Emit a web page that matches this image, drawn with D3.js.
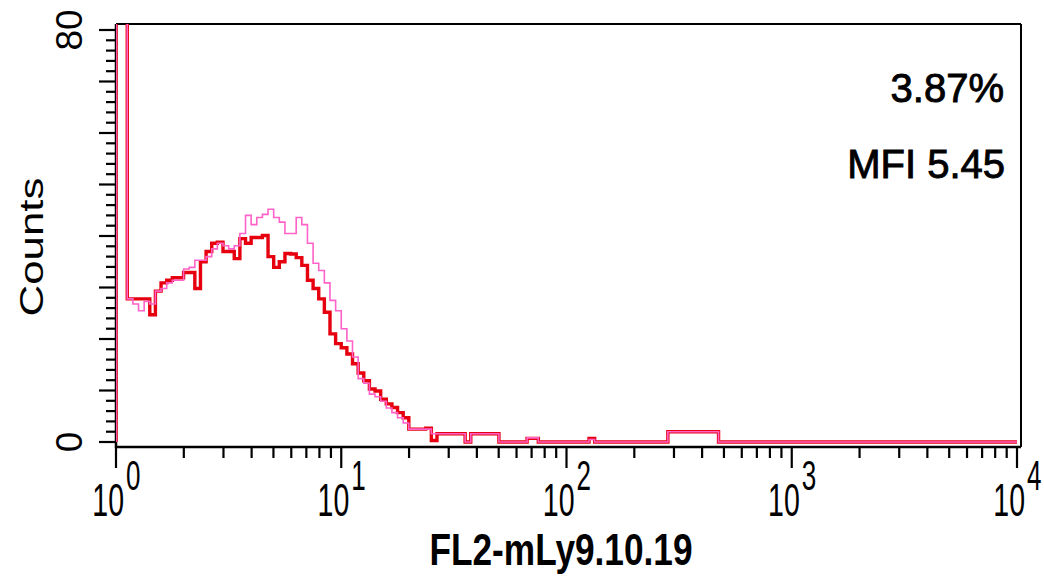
<!DOCTYPE html>
<html><head><meta charset="utf-8">
<script src="https://cdn.jsdelivr.net/npm/d3@7"></script>
<style>body{margin:0;background:#fff} svg{display:block}</style>
</head><body><svg id="c" width="1044" height="576"></svg>
<script>
// histogram bins: 40 bins per decade, from 10^0 to 10^4
const binsPerDecade = 40;
const redCounts = [
95,95,27.8,27.8,27.8,27.8,24.7,29.3,30.9,31.4,
31.9,31.9,32.9,32.9,29.8,35.0,37.0,38.6,38.8,37.0,
37.0,35.6,39.5,38.6,39.7,39.7,40.1,36.0,33.9,35.0,
36.6,36.5,35.8,34.3,31.4,29.8,27.8,25.2,21.0,19.1,
18.3,17.1,15.2,13.4,11.9,10.3,9.9,8.3,7.4,6.7,
5.7,4.7,2.5,2.5,2.5,2.7,0.3,1.6,1.6,1.6,
1.6,1.6,0,1.6,1.6,1.6,1.6,1.6,0,0,
0,0,0,0.7,0.7,0,0,0,0,0,
0,0,0,0,0.7,0,0,0,0,0,
0,0,0,0,0,0,0,0,2.0,2.0,
2.0,2.0,2.0,2.0,2.0,2.0,2.0,0,0,0,
0,0,0,0,0,0,0,0,0,0,
0,0,0,0,0,0,0,0,0,0,
0,0,0,0,0,0,0,0,0,0,
0,0,0,0,0,0,0,0,0,0,
0,0,0,0,0,0,0,0,0,0
];
const pinkCounts = [
95,95,27.8,26.8,25.5,27.3,26.8,29.3,29.8,30.9,
31.4,31.4,33.6,33.9,35.3,35.3,36.0,37.5,38.6,38.1,
37.5,38.1,40.5,44.0,42.2,43.6,44.2,45.2,43.6,42.7,
40.5,40.5,43.6,42.2,38.6,34.7,33.3,30.9,27.5,25.5,
22.0,19.6,16.5,12.3,11.4,9.3,8.8,7.9,6.6,5.7,
4.7,3.7,2.5,2.5,2.5,2.5,1.6,1.6,1.6,1.6,
1.6,1.6,0,1.6,1.6,1.6,1.6,1.6,0,0,
0,0,0,0.8,0.8,0,0,0,0,0,
0,0,0,0,0.5,0,0,0,0,0,
0,0,0,0,0,0,0,0,2.0,2.0,
2.0,2.0,2.0,2.0,2.0,2.0,2.0,0,0,0,
0,0,0,0,0,0,0,0,0,0,
0,0,0,0,0,0,0,0,0,0,
0,0,0,0,0,0,0,0,0,0,
0,0,0,0,0,0,0,0,0,0,
0,0,0,0,0,0,0,0,0,0
];
const xTickExponents = [0, 1, 2, 3, 4];
const yTickLabels = [0, 80];
const xLabel = "FL2-mLy9.10.19";
const yLabel = "Counts";
const statLabels = ["3.87%", "MFI 5.45"];

const svg = d3.select("#c");
const FONT = "'Liberation Sans', Arial, sans-serif";
const plotLeft = 116, plotRight = 1021, plotTop = 24, plotBottom = 447;
const x = d3.scaleLog().domain([1, 10000]).range([116, 1017]);
const y = d3.scaleLinear().domain([0, 80]).range([442, 30]);

svg.append("defs").append("clipPath").attr("id", "clip")
  .append("rect").attr("x", plotLeft).attr("y", plotTop)
  .attr("width", plotRight - plotLeft).attr("height", plotBottom - plotTop);

// frame / axes
const ax = svg.append("g").attr("stroke", "#000").attr("fill", "none");
ax.append("line").attr("x1", plotLeft).attr("x2", plotRight).attr("y1", plotTop).attr("y2", plotTop).attr("stroke-width", 2);
ax.append("line").attr("x1", plotRight).attr("x2", plotRight).attr("y1", plotTop).attr("y2", plotBottom).attr("stroke-width", 2);
ax.append("line").attr("x1", plotLeft).attr("x2", plotLeft).attr("y1", plotTop).attr("y2", plotBottom + 1).attr("stroke-width", 2.5);
ax.append("line").attr("x1", plotLeft).attr("x2", plotRight).attr("y1", plotBottom).attr("y2", plotBottom).attr("stroke-width", 2.5);

// y ticks
const yt = d3.range(0, 81, 2);
ax.selectAll(".yt").data(yt).enter().append("line")
  .attr("x1", d => d % 10 === 0 ? 99 : 106).attr("x2", plotLeft)
  .attr("y1", d => y(d)).attr("y2", d => y(d)).attr("stroke-width", 2.2);

// x ticks (log)
const xt = [];
for (let e = 0; e < 4; e++) for (let m = 1; m < 10; m++) xt.push({v: m * Math.pow(10, e), major: m === 1});
xt.push({v: 10000, major: true});
ax.selectAll(".xt").data(xt).enter().append("line")
  .attr("x1", d => x(d.v)).attr("x2", d => x(d.v))
  .attr("y1", plotBottom).attr("y2", d => d.major ? 468 : 458).attr("stroke-width", 2.2);

// histograms
const line = d3.line().x(d => x(d[0])).y(d => y(d[1])).curve(d3.curveStepAfter);
function pts(counts) {
  const p = [[1, 0]];
  counts.forEach((c, k) => p.push([Math.pow(10, k / binsPerDecade), c]));
  p.push([Math.pow(10, counts.length / binsPerDecade), counts[counts.length - 1]]);
  return p;
}
const hg = svg.append("g").attr("clip-path", "url(#clip)").attr("fill", "none");
hg.append("path").attr("d", line(pts(redCounts))).attr("stroke", "#e6000f").attr("stroke-width", 3.4);
hg.append("path").attr("d", line(pts(pinkCounts))).attr("stroke", "#ff62c8").attr("stroke-width", 1.6);

// x tick labels
const xl = svg.append("g").attr("font-family", FONT).attr("fill", "#000");
xTickExponents.forEach(e => {
  const tx = x(Math.pow(10, e));
  xl.append("g").attr("transform", `translate(${tx + 8},516) scale(0.62,1)`)
    .append("text").attr("text-anchor", "end").attr("font-size", 46).text("10");
  xl.append("g").attr("transform", `translate(${tx + 10},490) scale(0.62,1)`)
    .append("text").attr("text-anchor", "start").attr("font-size", 42).text(String(e));
});

// y tick labels (rotated)
yTickLabels.forEach(v => {
  svg.append("text").attr("transform", `translate(82,${y(v)}) rotate(-90)`)
    .attr("text-anchor", "middle").attr("font-family", FONT).attr("font-size", 37).text(String(v));
});

// axis titles
svg.append("text").attr("x", 561).attr("y", 565).attr("text-anchor", "middle")
  .attr("font-family", FONT).attr("font-size", 44).attr("font-weight", "bold")
  .attr("textLength", 263).attr("lengthAdjust", "spacingAndGlyphs").text(xLabel);
svg.append("text").attr("transform", "translate(43,247) rotate(-90)").attr("text-anchor", "middle")
  .attr("font-family", FONT).attr("font-size", 34)
  .attr("textLength", 139).attr("lengthAdjust", "spacingAndGlyphs").text(yLabel);

// stats
svg.append("text").attr("x", 1004).attr("y", 102).attr("text-anchor", "end")
  .attr("font-family", FONT).attr("font-size", 40).attr("stroke", "#000").attr("stroke-width", 0.9).text(statLabels[0]);
svg.append("text").attr("x", 1005).attr("y", 178).attr("text-anchor", "end")
  .attr("font-family", FONT).attr("font-size", 40).attr("stroke", "#000").attr("stroke-width", 0.9).text(statLabels[1]);
</script></body></html>
